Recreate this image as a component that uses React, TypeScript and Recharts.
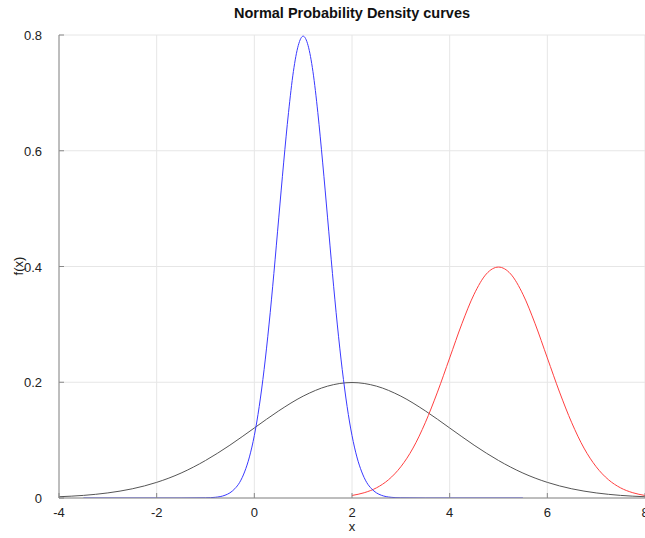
import React from 'react';
import { LineChart, Line, XAxis, YAxis, CartesianGrid } from 'recharts';

// x ticks and y ticks
const xTicks = [-4, -2, 0, 2, 4, 6, 8];
const yTicks = [0, 0.2, 0.4, 0.6, 0.8];

// blue curve (narrow peak near x = 1)
const blueX = [-3.5, -1.5, -1, -0.8, -0.6, -0.5, -0.4, -0.3, -0.2, -0.1, 0, 0.1, 0.2, 0.3, 0.4, 0.5, 0.6, 0.7, 0.8, 0.9, 1,
  1.1, 1.2, 1.3, 1.4, 1.5, 1.6, 1.7, 1.8, 1.9, 2, 2.1, 2.2, 2.3, 2.4, 2.5, 2.6, 2.8, 3, 3.5, 5.5];
const blueY = [0, 0, 0.0003, 0.0012, 0.0048, 0.0089, 0.016, 0.027, 0.045, 0.071, 0.108, 0.158, 0.222, 0.299, 0.388, 0.484, 0.579, 0.666, 0.737, 0.782, 0.798,
  0.782, 0.737, 0.666, 0.579, 0.484, 0.388, 0.299, 0.222, 0.158, 0.108, 0.071, 0.045, 0.027, 0.016, 0.0089, 0.0048, 0.0012, 0.0003, 0, 0];

// red curve (peak near x = 5)
const redX = [2, 2.25, 2.5, 2.75, 3, 3.25, 3.5, 3.75, 4, 4.25, 4.5, 4.75, 5, 5.25, 5.5, 5.75, 6, 6.25, 6.5, 6.75, 7, 7.25, 7.5, 7.75, 8];
const redY = [0.0044, 0.0091, 0.0175, 0.0317, 0.054, 0.0863, 0.13, 0.183, 0.242, 0.301, 0.352, 0.387, 0.399,
  0.387, 0.352, 0.301, 0.242, 0.183, 0.13, 0.0863, 0.054, 0.0317, 0.0175, 0.0091, 0.0044];

// dark grey curve (wide, peak near x = 2)
const greyX = [-4, -3.5, -3, -2.5, -2, -1.5, -1, -0.5, 0, 0.5, 1, 1.5, 2, 2.5, 3, 3.5, 4, 4.5, 5, 5.5, 6, 6.5, 7, 7.5, 8];
const greyY = [0.0022, 0.0045, 0.0088, 0.0159, 0.027, 0.0431, 0.0648, 0.0913, 0.121, 0.1506, 0.176, 0.1933, 0.1995,
  0.1933, 0.176, 0.1506, 0.121, 0.0913, 0.0648, 0.0431, 0.027, 0.0159, 0.0088, 0.0045, 0.0022];

const zip = (xs: number[], ys: number[]) => xs.map((x, i) => ({ x, y: ys[i] }));
const blueData = zip(blueX, blueY);
const redData = zip(redX, redY);
const greyData = zip(greyX, greyY);

const font = '"Liberation Sans", Arial, Helvetica, sans-serif';
const axisColor = '#888';

const BottomTick = (props: any) => {
  const { x, y, payload } = props;
  return (
    <g>
      <line x1={x} x2={x} y1={y} y2={y - 5} stroke={axisColor} />
      <text x={x} y={y + 19} textAnchor="middle" fontSize={13} fontFamily={font} fill="#222">
        {payload.value}
      </text>
    </g>
  );
};

const TopTick = (props: any) => {
  const { x, y } = props;
  return <line x1={x} x2={x} y1={y} y2={y + 5} stroke={axisColor} />;
};

const LeftTick = (props: any) => {
  const { x, y, payload } = props;
  return (
    <g>
      <line x1={x} x2={x + 5} y1={y} y2={y} stroke={axisColor} />
      <text x={x - 17} y={y + 5} textAnchor="end" fontSize={13} fontFamily={font} fill="#222">
        {payload.value}
      </text>
    </g>
  );
};

export default function App() {
  return (
    <div style={{ position: 'fixed', left: 0, top: 0, width: 645, height: 538, overflow: 'hidden', background: '#fff' }}>
      <div style={{ position: 'absolute', left: 0, width: 704, top: 5, textAlign: 'center', fontFamily: font, fontWeight: 'bold', fontSize: 14.5, color: '#111' }}>
        Normal Probability Density curves
      </div>
      <div style={{ position: 'absolute', left: 0, width: 704, top: 519, textAlign: 'center', fontFamily: font, fontSize: 13, color: '#222' }}>
        x
      </div>
      <div style={{ position: 'absolute', left: 18, top: 266, transform: 'translate(-50%, -50%) rotate(-90deg)', fontFamily: font, fontSize: 13, color: '#222', whiteSpace: 'nowrap' }}>
        f(x)
      </div>
      <LineChart width={680} height={538} margin={{ top: 35, right: 35, bottom: 0, left: 0 }}>
        <CartesianGrid xAxisId="b" stroke="#e6e6e6" />
        <XAxis type="number" dataKey="x" xAxisId="b" domain={[-4, 8]} ticks={xTicks} allowDataOverflow
          height={40} stroke={axisColor} tickSize={0} tickMargin={0} tick={<BottomTick />} />
        <XAxis type="number" dataKey="x" xAxisId="t" orientation="top" domain={[-4, 8]} ticks={xTicks} allowDataOverflow
          height={0} stroke={axisColor} tickSize={0} tickMargin={0} tick={<TopTick />} />
        <YAxis type="number" domain={[0, 0.8]} ticks={yTicks} allowDataOverflow width={59}
          stroke={axisColor} tickSize={0} tickMargin={0} tick={<LeftTick />} />
        <Line xAxisId="b" data={greyData} dataKey="y" type="monotone" stroke="#555" strokeWidth={1} dot={false} isAnimationActive={false} />
        <Line xAxisId="b" data={redData} dataKey="y" type="monotone" stroke="#ff4040" strokeWidth={1} dot={false} isAnimationActive={false} />
        <Line xAxisId="b" data={blueData} dataKey="y" type="monotone" stroke="#3a3aff" strokeWidth={1} dot={false} isAnimationActive={false} />
      </LineChart>
    </div>
  );
}
